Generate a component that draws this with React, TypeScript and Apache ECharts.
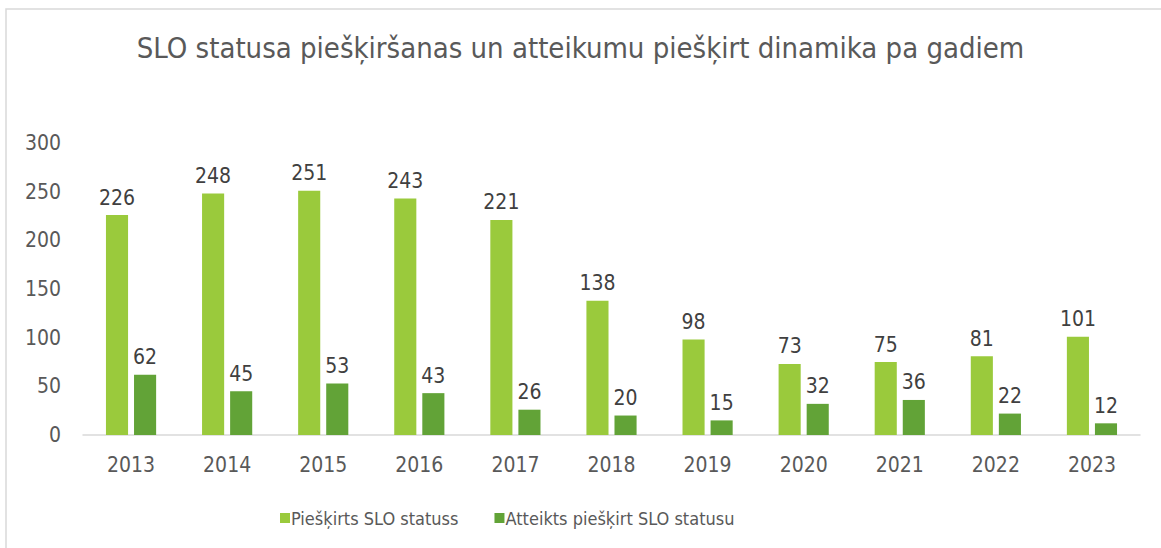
import React, { useEffect, useRef } from "react";
import * as echarts from "echarts";

const title = "SLO statusa piešķiršanas un atteikumu piešķirt dinamika pa gadiem";
const years = ["2013", "2014", "2015", "2016", "2017", "2018", "2019", "2020", "2021", "2022", "2023"];
const granted = [226, 248, 251, 243, 221, 138, 98, 73, 75, 81, 101];
const refused = [62, 45, 53, 43, 26, 20, 15, 32, 36, 22, 12];
const seriesNames = ["Piešķirts SLO statuss", "Atteikts piešķirt SLO statusu"];

const FONT = "'DejaVu Sans Condensed', 'DejaVu Sans', sans-serif";

export default function App() {
  const ref = useRef<HTMLDivElement>(null);
  useEffect(() => {
    if (!ref.current) return;
    const chart = echarts.init(ref.current, null, { renderer: "svg" });
    const label = {
      show: true,
      position: "top" as const,
      distance: 7,
      color: "#404040",
      fontSize: 21,
      fontFamily: FONT,
    };
    chart.setOption({
      animation: false,
      textStyle: { fontFamily: FONT },
      title: {
        text: title,
        left: "center",
        top: 28,
        textStyle: { fontSize: 29, fontWeight: "normal", color: "#595959", fontFamily: FONT },
      },
      graphic: [
        {
          type: "rect",
          shape: { x: 6, y: 9, width: 1200, height: 600 },
          style: { fill: "none", stroke: "#d9d9d9", lineWidth: 1.5 },
          silent: true,
        },
      ],
      legend: {
        top: 504,
        left: 275,
        itemWidth: 10,
        itemHeight: 10,
        itemGap: 36,
        icon: "rect",
        textStyle: { fontSize: 18, color: "#595959", fontFamily: FONT, padding: [0, 0, 0, -4] },
        data: seriesNames,
      },
      grid: { left: 83, right: 21, top: 143, bottom: 113 },
      xAxis: {
        type: "category",
        data: years,
        axisLine: { lineStyle: { color: "#d9d9d9", width: 1.5 } },
        axisTick: { show: false },
        axisLabel: { color: "#595959", fontSize: 21, fontFamily: FONT, margin: 19 },
      },
      yAxis: {
        type: "value",
        min: 0,
        max: 300,
        interval: 50,
        splitLine: { show: false },
        axisLine: { show: false },
        axisTick: { show: false },
        axisLabel: { color: "#595959", fontSize: 21, fontFamily: FONT, margin: 22 },
      },
      series: [
        {
          name: seriesNames[0],
          type: "bar",
          data: granted,
          barWidth: "23%",
          barGap: "27%",
          itemStyle: { color: "#9aca3c" },
          label,
        },
        {
          name: seriesNames[1],
          type: "bar",
          data: refused,
          barWidth: "23%",
          itemStyle: { color: "#62a337" },
          label,
        },
      ],
    });
    return () => chart.dispose();
  }, []);
  return (
    <div
      ref={ref}
      style={{ position: "absolute", left: 0, top: 0, width: 1161, height: 548, background: "#fff" }}
    />
  );
}
